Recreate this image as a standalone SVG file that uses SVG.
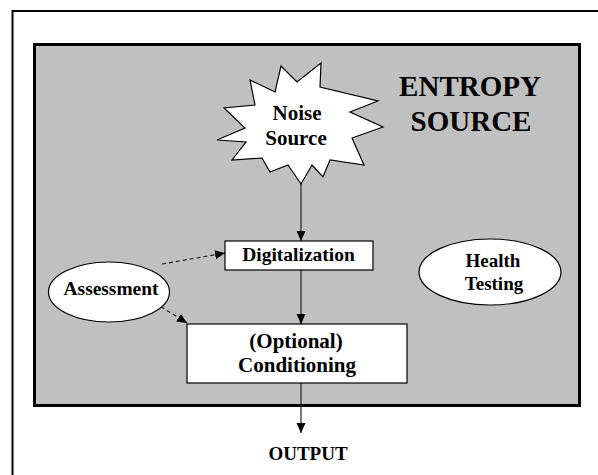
<svg xmlns="http://www.w3.org/2000/svg" width="598" height="475" viewBox="0 0 598 475">
<defs>
<style>
text{font-family:"Liberation Serif","Times New Roman",serif;font-weight:bold;fill:#000;text-anchor:middle}
.shape{fill:#fff;stroke:#000;stroke-width:1.2}
.conn{stroke:#222;stroke-width:1.2;fill:none}
.dash{stroke-dasharray:4 3}
</style>
<marker id="arr" viewBox="0 0 10 10" refX="10" refY="5" markerWidth="10" markerHeight="10" markerUnits="userSpaceOnUse" orient="auto">
<path d="M0,0.5 L10,5 L0,9.5 Z" fill="#000"/>
</marker>
</defs>
<rect x="0" y="0" width="598" height="475" fill="#fff"/>
<g id="frame">
<rect x="12.5" y="11" width="600" height="480" fill="none" stroke="#000" stroke-width="2"/>
</g>
<g id="entropy-source">
<rect x="34.5" y="44.5" width="545" height="361" fill="#c0c0c0" stroke="#000" stroke-width="3"/>
<text x="470" y="96" font-size="29">ENTROPY</text>
<text x="471" y="131" font-size="29">SOURCE</text>
</g>
<g id="connectors">
<line class="conn" x1="301" y1="183" x2="301" y2="241" marker-end="url(#arr)"/>
<line class="conn" x1="301" y1="270" x2="301" y2="324" marker-end="url(#arr)"/>
<line class="conn" x1="301" y1="383" x2="301" y2="433" marker-end="url(#arr)"/>
<line class="conn dash" x1="162" y1="264" x2="225" y2="253" marker-end="url(#arr)"/>
<line class="conn dash" x1="155" y1="303" x2="187" y2="323" marker-end="url(#arr)"/>
</g>
<g id="noise-source">
<path class="shape" d="M281,66 L297,82 L321,63 L320,87 L378,101 L350,112 L383,127 L352,138 L364,165 L330,160 L323,177 L312,165 L301,184 L288,165 L270,172 L262,158 L232,160 L246,142 L217,140 L245,128 L224,108 L255,105 L250,80 L275,92 Z"/>
<text x="297" y="120" font-size="21">Noise</text>
<text x="296" y="145" font-size="21">Source</text>
</g>
<g id="digitalization">
<rect class="shape" x="225" y="241" width="148" height="29"/>
<text x="298.5" y="261" font-size="19.5">Digitalization</text>
</g>
<g id="conditioning">
<rect class="shape" x="187" y="324" width="220" height="59"/>
<text x="296" y="348" font-size="21">(Optional)</text>
<text x="297" y="372" font-size="21">Conditioning</text>
</g>
<g id="assessment">
<ellipse class="shape" cx="109" cy="292" rx="60.5" ry="30"/>
<text x="111" y="295" font-size="19.4">Assessment</text>
</g>
<g id="health-testing">
<ellipse class="shape" cx="490" cy="272" rx="71" ry="33"/>
<text x="493" y="267" font-size="19">Health</text>
<text x="494" y="290" font-size="19">Testing</text>
</g>
<g id="output">
<text x="308" y="460" font-size="19">OUTPUT</text>
</g>
</svg>
